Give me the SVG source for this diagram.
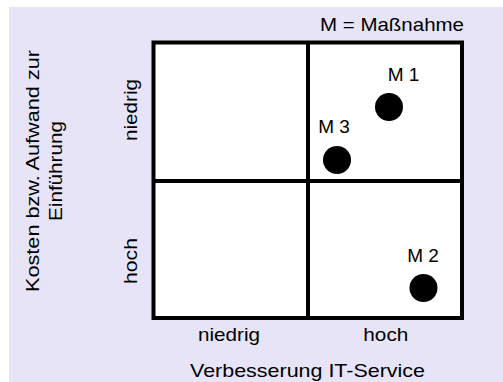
<svg xmlns="http://www.w3.org/2000/svg" width="503" height="382" viewBox="0 0 503 382">
<style>
text{font-family:"Liberation Sans",Arial,sans-serif;font-size:19px;fill:#000;text-anchor:middle}
.grid{fill:none;stroke:#000;stroke-width:4}
.dot{fill:#000}
.bg{fill:#e6e4f6;stroke:none}
</style>
<rect class="bg" x="9" y="7" width="494" height="375"/>
<g id="matrix">
<rect x="153.5" y="42.5" width="308.5" height="275.5" style="fill:#ffffff;stroke:#000;stroke-width:4"/>
</g>
<g id="connectors">
<line x1="308" y1="42.5" x2="308" y2="318" class="grid"/>
<line x1="153.5" y1="181" x2="462" y2="181" class="grid"/>
</g>
<g id="legend"><text x="392" y="30.7" textLength="144" lengthAdjust="spacingAndGlyphs">M = Maßnahme</text></g>
<g id="m1"><circle class="dot" cx="389" cy="107" r="14"/><text x="403.5" y="81">M 1</text></g>
<g id="m3"><circle class="dot" cx="337" cy="160" r="14"/><text x="334" y="133">M 3</text></g>
<g id="m2"><circle class="dot" cx="423.5" cy="288" r="14"/><text x="423" y="261.7">M 2</text></g>
<g id="xlabels">
<text x="229" y="340.7" textLength="62" lengthAdjust="spacingAndGlyphs">niedrig</text>
<text x="385.8" y="340.7" textLength="45" lengthAdjust="spacingAndGlyphs">hoch</text>
<text x="307.5" y="376.7" textLength="235" lengthAdjust="spacingAndGlyphs">Verbesserung IT-Service</text>
</g>
<g id="ylabels">
<text transform="translate(137,110) rotate(-90)" textLength="62" lengthAdjust="spacingAndGlyphs">niedrig</text>
<text transform="translate(137,261) rotate(-90)" textLength="46" lengthAdjust="spacingAndGlyphs">hoch</text>
<text transform="translate(38.5,171) rotate(-90)" textLength="242" lengthAdjust="spacingAndGlyphs">Kosten bzw. Aufwand zur</text>
<text transform="translate(61.5,171) rotate(-90)" textLength="100" lengthAdjust="spacingAndGlyphs">Einführung</text>
</g>
</svg>
